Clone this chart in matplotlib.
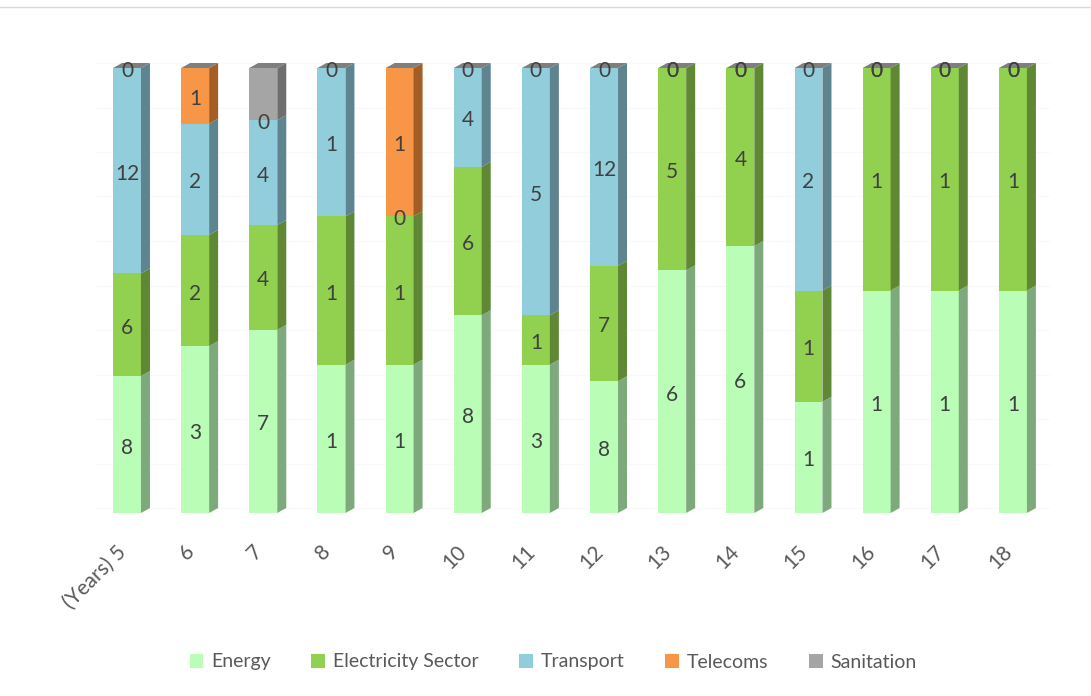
import numpy as np
import matplotlib
matplotlib.use("Agg")
import matplotlib.pyplot as plt
from matplotlib.patches import Rectangle, Polygon, Patch
from matplotlib.lines import Line2D

plt.rcParams['font.family'] = ['Lato', 'DejaVu Sans']

# project counts per duration (years)
categories = ["(Years) 5", "6", "7", "8", "9", "10", "11", "12",
              "13", "14", "15", "16", "17", "18"]
energy = [8, 3, 7, 1, 1, 8, 3, 8, 6, 6, 1, 1, 1, 1]
electricity = [6, 2, 4, 1, 1, 6, 1, 7, 5, 4, 1, 1, 1, 1]
transport = [12, 2, 4, 1, 0, 4, 5, 12, 0, 0, 2, 0, 0, 0]
telecoms = [0, 1, 0, 0, 1, 0, 0, 0, 0, 0, 0, 0, 0, 0]
sanitation = [0, 0, 2, 0, 0, 0, 0, 0, 0, 0, 0, 0, 0, 0]

series_names = ["Energy", "Electricity Sector", "Transport", "Telecoms", "Sanitation"]
series = [energy, electricity, transport, telecoms, sanitation]
front_colors = ["#B9FDB7", "#92D050", "#92CDDC", "#F79646", "#A5A5A5"]
side_colors = ["#7DA97C", "#5F8734", "#5E8490", "#A35E25", "#6E6E6E"]
show_labels = [True, True, True, True, False]

W, H = 1091, 696
fig = plt.figure(figsize=(W / 100, H / 100), dpi=100)

# axes laid out in pixels: bars run from y=513 (0%) to y=68 (100%)
px_left, px_right, px_top, px_bottom = 60, 1060, 40, 513
ax = fig.add_axes([px_left / W, (H - px_bottom) / H,
                   (px_right - px_left) / W, (px_bottom - px_top) / H])
step = 68.15
x0 = 127
ax.set_xlim((px_left - x0) / step, (px_right - x0) / step)
ax.set_ylim(0, (px_bottom - px_top) / 445)
ax.axis('off')

bw = 0.41
dx = 9 / step
dy = 5 / 445
lab_off = 3 / 445

# faint back-wall gridlines
for g in np.arange(0, 1.01, 0.1):
    ax.plot([-0.6 + dx, 13.4 + dx], [g + dy, g + dy], color="#F9F9F9", lw=0.8, zorder=0)

totals = np.sum(np.array(series), axis=0)
x = np.arange(len(categories))
for i in x:
    bottom = 0.0
    for s, vals in enumerate(series):
        frac = vals[i] / totals[i]
        top = bottom + frac
        l, r = i - bw / 2, i + bw / 2
        if frac > 0:
            ax.add_patch(Rectangle((l, bottom), bw, frac, facecolor=front_colors[s],
                                   edgecolor="none", zorder=3))
            ax.add_patch(Polygon([(r, bottom), (r + dx, bottom + dy), (r + dx, top + dy), (r, top)],
                                 closed=True, facecolor=side_colors[s], edgecolor="none", zorder=3))
        if show_labels[s]:
            ax.text(i, (bottom + top) / 2 - lab_off, str(vals[i]), ha="center", va="center",
                    fontsize=15, color="#404040", zorder=5)
        bottom = top
    # top face
    ax.add_patch(Polygon([(i - bw / 2, 1), (i - bw / 2 + dx, 1 + dy), (i + bw / 2 + dx, 1 + dy), (i + bw / 2, 1)],
                         closed=True, facecolor="#7F7F7F", edgecolor="none", zorder=4))

# rotated category labels
for i, lab in zip(x, categories):
    ax.text(i - 0.06, -0.08, lab, rotation=45, rotation_mode="anchor", ha="right", va="center",
            fontsize=15, color="#595959")

handles = [Patch(facecolor=c, edgecolor="none") for c in front_colors]
fig.legend(handles, series_names, loc="center", bbox_to_anchor=(0.507, 1 - 662 / H), ncol=5,
           frameon=False, fontsize=14, labelcolor="#595959", handlelength=0.7, handleheight=0.7,
           handletextpad=0.4, columnspacing=2.1)

# chart frame line
fig.add_artist(Line2D([0, 1], [1 - 7 / H, 1 - 7 / H], color="#D9D9D9", lw=1, transform=fig.transFigure))

fig.savefig("out.png", dpi=100, facecolor="white")
